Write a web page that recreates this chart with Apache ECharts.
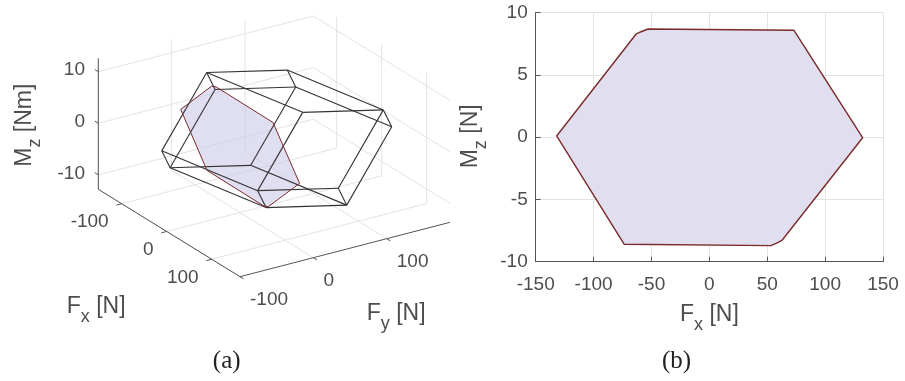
<!DOCTYPE html>
<html>
<head>
<meta charset="utf-8">
<title>Wrench polytope</title>
<script src="https://cdn.jsdelivr.net/npm/echarts@6.0.0/dist/echarts.min.js"></script>
<style>
html,body{margin:0;padding:0;background:#ffffff;}
#chart{width:905px;height:381px;}
</style>
</head>
<body>
<div id="chart"></div>
<script>
// ================= DATA =================
// (b) feasible (Fx, Mz) set at Fy = 0
const sliceFx = [-131.9, -63.4, -59.5, -53.0, 73.1, 132.4, 63.0, 59.5, 53.2, -73.5];
const sliceMz = [0.1, 8.27, 8.45, 8.69, 8.59, -0.04, -8.26, -8.45, -8.71, -8.6];
const sliceFy = 0;
// (a) wrench zonotope: actuator generators (Fx, Fy, Mz) and centre
const genFx = [97.8, 63.3, 102.2, 63.1];
const genFy = [49.9, 92.0, -51.2, -100.0];
const genMz = [3.9, -7.7, 4.1, -8.1];
const centreFxFyMz = [4.8, 47.0, 0.0];
// (a) axis limits and ticks
const limFx3d = [-152, 163];
const limFy3d = [-100, 193];
const limMz3d = [-12.8, 12.6];
const ticksFx3d = [-100, 0, 100];
const ticksFy3d = [-100, 0, 100];
const ticksMz3d = [-10, 0, 10];
// (b) ticks
const ticksFx2d = [-150, -100, -50, 0, 50, 100, 150];
const ticksMz2d = [-10, -5, 0, 5, 10];

// ================= STYLE / LAYOUT =================
const FONT = '"Liberation Sans", Arial, Helvetica, sans-serif';
const SERIF = '"Liberation Serif", "Times New Roman", serif';
const TXT = '#4d4d4d';
const AXC = '#555555';
const GRIDC = '#e3e3e3';
const WIREC = '#333333';
const EDGEC = '#7a2a2a';
const FILLC = 'rgba(205,202,232,0.62)';
const FILL2 = '#e0deef';

// view of panel (a): screen position of the axis box corner and its edges
const view = {o: [98.3, 189.3], ex: [141.7, 87.4], ey: [215, -55.7], ez: [0, -131]};
function proj(X, Y, Z) {
  const fx = (X - limFx3d[0]) / (limFx3d[1] - limFx3d[0]);
  const fy = (Y - limFy3d[0]) / (limFy3d[1] - limFy3d[0]);
  const fz = (Z - limMz3d[0]) / (limMz3d[1] - limMz3d[0]);
  return [view.o[0] + fx * view.ex[0] + fy * view.ey[0] + fz * view.ez[0],
          view.o[1] + fx * view.ex[1] + fy * view.ey[1] + fz * view.ez[1]];
}

// ================= GEOMETRY from data =================
const X0 = limFx3d[0], X1 = limFx3d[1], Y0 = limFy3d[0], Y1 = limFy3d[1], Z0 = limMz3d[0], Z1 = limMz3d[1];
const gridSegs = [];
ticksFx3d.forEach(x => { gridSegs.push([x, Y0, Z0, x, Y1, Z0]); gridSegs.push([x, Y1, Z0, x, Y1, Z1]); });
ticksFy3d.forEach(y => { gridSegs.push([X0, y, Z0, X1, y, Z0]); gridSegs.push([X0, y, Z0, X0, y, Z1]); });
ticksMz3d.forEach(z => { gridSegs.push([X0, Y0, z, X0, Y1, z]); gridSegs.push([X0, Y1, z, X1, Y1, z]); });

const axisSegs = [[X0, Y0, Z0, X0, Y0, Z1], [X0, Y0, Z0, X1, Y0, Z0], [X1, Y0, Z0, X1, Y1, Z0]];
const tx = 0.025 * (X1 - X0), ty = 0.025 * (Y1 - Y0);
ticksMz3d.forEach(z => axisSegs.push([X0, Y0, z, X0 - tx, Y0, z]));
ticksFx3d.forEach(x => axisSegs.push([x, Y0, Z0, x, Y0 - ty, Z0]));
ticksFy3d.forEach(y => axisSegs.push([X1, y, Z0, X1 + tx, y, Z0]));

// zonotope edges
const gens = genFx.map((_, i) => [genFx[i], genFy[i], genMz[i]]);
const cross = (u, v) => [u[1]*v[2]-u[2]*v[1], u[2]*v[0]-u[0]*v[2], u[0]*v[1]-u[1]*v[0]];
const dot = (u, v) => u[0]*v[0] + u[1]*v[1] + u[2]*v[2];
const wireSegs = [];
const seen = new Set();
for (let i = 0; i < gens.length; i++) {
  for (let j = i + 1; j < gens.length; j++) {
    const n = cross(gens[i], gens[j]);
    [1, -1].forEach(s => {
      const base = centreFxFyMz.slice();
      gens.forEach((g, k) => {
        if (k === i || k === j) return;
        const sg = Math.sign(s * dot(n, g));
        for (let d = 0; d < 3; d++) base[d] += sg * g[d] / 2;
      });
      const corners = [[-1, -1], [1, -1], [1, 1], [-1, 1]].map(([p, q]) =>
        [0, 1, 2].map(d => base[d] + p * gens[i][d] / 2 + q * gens[j][d] / 2));
      for (let e = 0; e < 4; e++) {
        const A = corners[e], B = corners[(e + 1) % 4];
        const ka = A.map(v => v.toFixed(3)).join(','), kb = B.map(v => v.toFixed(3)).join(',');
        const key = ka < kb ? ka + '|' + kb : kb + '|' + ka;
        if (seen.has(key)) continue;
        seen.add(key);
        wireSegs.push([A[0], A[1], A[2], B[0], B[1], B[2]]);
      }
    });
  }
}

// ================= HELPERS =================
function segSeries(segs, color, width, z) {
  return {
    type: 'custom', xAxisIndex: 0, yAxisIndex: 0, clip: true, z: z, silent: true,
    dimensions: ['x1', 'y1', 'z1', 'x2', 'y2', 'z2'],
    encode: {x: 0, y: 1},
    data: segs,
    renderItem: (params, api) => {
      const p = api.coord(proj(api.value(0), api.value(1), api.value(2)));
      const q = api.coord(proj(api.value(3), api.value(4), api.value(5)));
      return {type: 'line', shape: {x1: p[0], y1: p[1], x2: q[0], y2: q[1]},
              style: {stroke: color, lineWidth: width}};
    }
  };
}
function labelSeries(values, at, dx, dy, align) {
  return {
    type: 'custom', xAxisIndex: 0, yAxisIndex: 0, z: 6, silent: true,
    dimensions: ['v'], encode: {x: 0, y: 0},
    data: values.map(v => [v]),
    renderItem: (params, api) => {
      const v = api.value(0);
      const p = api.coord(at(v));
      return {type: 'text', x: p[0] + dx, y: p[1] + dy,
              style: {text: String(v), fill: TXT, font: '19px ' + FONT, align: align, verticalAlign: 'middle'}};
    }
  };
}
const mctx = document.createElement('canvas').getContext('2d');
function tw(text, size) { mctx.font = size + 'px ' + FONT; return mctx.measureText(text).width; }
function subLabel(main, sub, tail, x, y, rot) {
  const w1 = tw(main, 23), w2 = tw(sub, 18);
  const st = (t, s) => ({text: t, font: s + 'px ' + FONT, fill: TXT, align: 'left', verticalAlign: 'middle'});
  return {type: 'group', x: x, y: y, rotation: rot || 0, silent: true, children: [
    {type: 'text', x: 0, y: 0, style: st(main, 23)},
    {type: 'text', x: w1, y: 10.5, style: st(sub, 18)},
    {type: 'text', x: w1 + w2, y: 0, style: st(tail, 23)}
  ]};
}

// ================= CHART =================
const chart = echarts.init(document.getElementById('chart'), null, {renderer: 'canvas', width: 905, height: 381});
const hiddenAxis = {type: 'value', show: false, axisLine: {show: false}, axisTick: {show: false},
                    axisLabel: {show: false}, splitLine: {show: false}};
const option = {
  backgroundColor: '#ffffff',
  animation: false,
  grid: [
    {left: 0, top: 0, width: 450, height: 381, containLabel: false, outerBoundsMode: 'none'},
    {left: 535.7, top: 12.7, width: 347.3, height: 249, containLabel: false, outerBoundsMode: 'none'}
  ],
  xAxis: [
    Object.assign({}, hiddenAxis, {gridIndex: 0, min: 0, max: 450}),
    {type: 'value', gridIndex: 1, min: ticksFx2d[0], max: ticksFx2d[ticksFx2d.length - 1],
     interval: ticksFx2d[1] - ticksFx2d[0],
     axisLine: {show: true, onZero: false, lineStyle: {color: AXC, width: 1}},
     axisTick: {show: true, inside: true, length: 5, lineStyle: {color: AXC}},
     axisLabel: {color: TXT, fontSize: 19, fontFamily: FONT, margin: 14},
     splitLine: {show: true, showMinLine: true, showMaxLine: true, lineStyle: {color: GRIDC, width: 1}}}
  ],
  yAxis: [
    Object.assign({}, hiddenAxis, {gridIndex: 0, min: 0, max: 381, inverse: true}),
    {type: 'value', gridIndex: 1, min: ticksMz2d[0], max: ticksMz2d[ticksMz2d.length - 1],
     interval: ticksMz2d[1] - ticksMz2d[0],
     axisLine: {show: true, onZero: false, lineStyle: {color: AXC, width: 1}},
     axisTick: {show: true, inside: true, length: 5, lineStyle: {color: AXC}},
     axisLabel: {color: TXT, fontSize: 19, fontFamily: FONT, margin: 8},
     splitLine: {show: true, showMinLine: true, showMaxLine: true, lineStyle: {color: GRIDC, width: 1}}}
  ],
  series: [
    segSeries(gridSegs, GRIDC, 1, 1),
    {
      type: 'custom', xAxisIndex: 0, yAxisIndex: 0, clip: true, z: 2, silent: true,
      data: [[0, 0]],
      renderItem: (params, api) => {
        const pts = sliceFx.map((x, i) => api.coord(proj(x, sliceFy, sliceMz[i])));
        return {type: 'polygon', shape: {points: pts}, style: {fill: FILLC, stroke: 'none'}};
      }
    },
    segSeries(wireSegs, WIREC, 1.1, 3),
    {
      type: 'custom', xAxisIndex: 0, yAxisIndex: 0, clip: true, z: 4, silent: true,
      data: [[0, 0]],
      renderItem: (params, api) => {
        const pts = sliceFx.map((x, i) => api.coord(proj(x, sliceFy, sliceMz[i])));
        return {type: 'polygon', shape: {points: pts}, style: {fill: 'none', stroke: EDGEC, lineWidth: 1}};
      }
    },
    segSeries(axisSegs, AXC, 1, 5),
    labelSeries(ticksMz3d, v => proj(X0, Y0, v), -13.3, -1.5, 'right'),
    labelSeries(ticksFx3d, v => proj(v, Y0, Z0), -13, 18.5, 'right'),
    labelSeries(ticksFy3d, v => proj(X1, v, Z0), 10, 23, 'left'),
    {
      type: 'custom', xAxisIndex: 1, yAxisIndex: 1, z: 3, silent: true,
      data: [[0, 0]],
      renderItem: (params, api) => {
        const pts = sliceFx.map((x, i) => api.coord([x, sliceMz[i]]));
        return {type: 'polygon', shape: {points: pts},
                style: {fill: FILL2, stroke: EDGEC, lineWidth: 1.4, lineJoin: 'round'}};
      }
    }
  ],
  graphic: [
    subLabel('M', 'z', ' [Nm]', 24.2, 166.7, Math.PI / 2),
    subLabel('F', 'x', ' [N]', 66.7, 306.7),
    subLabel('F', 'y', ' [N]', 366.7, 314),
    subLabel('M', 'z', ' [N]', 470.8, 168.3, Math.PI / 2),
    subLabel('F', 'x', ' [N]', 680, 314.3),
    {type: 'text', x: 226.7, y: 361, silent: true,
     style: {text: '(a)', font: '25px ' + SERIF, fill: '#222222', align: 'center', verticalAlign: 'middle'}},
    {type: 'text', x: 676.5, y: 361, silent: true,
     style: {text: '(b)', font: '25px ' + SERIF, fill: '#222222', align: 'center', verticalAlign: 'middle'}}
  ]
};
chart.setOption(option);
</script>
</body>
</html>
